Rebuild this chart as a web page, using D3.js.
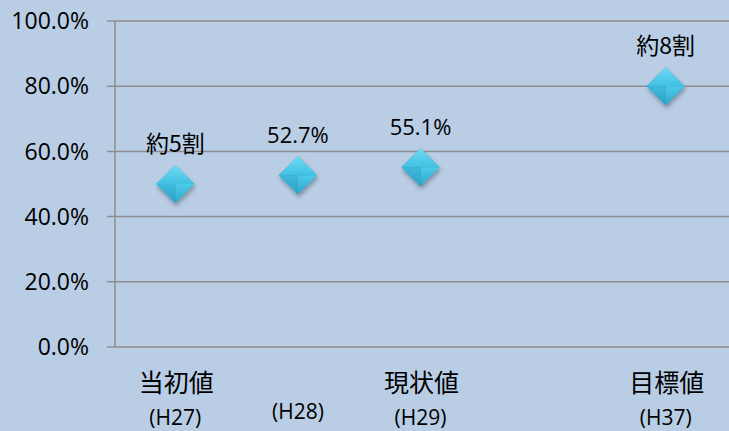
<meta charset="utf-8">
<style>
  body { margin: 0; background: #b9cde5; }
  text { font-family: "Noto Sans CJK JP", "Noto Sans", sans-serif; fill: #000; }
  .num { font-family: "Open Sans", "Noto Sans", sans-serif; }
</style>
<div id="chart"></div>
<script src="https://cdn.jsdelivr.net/npm/d3@7"></script>
<script>
var catKeys = ["H27", "H28", "H29", "H33", "H37"];
var catNames = ["当初値", "", "現状値", "", "目標値"];
var catYears = ["(H27)", "(H28)", "(H29)", "", "(H37)"];
var values = [50, 52.7, 55.1, null, 80];
var pointLabels = ["約5割", "52.7%", "55.1%", null, "約8割"];
var yTicks = [0, 20, 40, 60, 80, 100];

var width = 729, height = 431;

var svg = d3.select("#chart").append("svg")
    .attr("width", width)
    .attr("height", height);

svg.append("rect")
    .attr("width", width)
    .attr("height", height)
    .attr("fill", "#b9cde5");

var x = d3.scaleBand().domain(catKeys).range([114, 727]);
var y = d3.scaleLinear().domain([0, 100]).range([347, 21]);

// gradients for the beveled diamond
var defs = svg.append("defs");
var faces = [
    {id: "fTop", c1: "#6fdcf5", c2: "#40c0e2"},
    {id: "fLeft", c1: "#3fb9dc", c2: "#2fa2c6"},
    {id: "fRight", c1: "#4ccbe9", c2: "#2ea7cb"},
    {id: "fBottom", c1: "#2c9fc3", c2: "#2588ab"}
];
faces.forEach(function (f) {
    var g = defs.append("linearGradient").attr("id", f.id)
        .attr("x1", 0).attr("y1", 0).attr("x2", 0).attr("y2", 1);
    g.append("stop").attr("offset", "0%").attr("stop-color", f.c1);
    g.append("stop").attr("offset", "100%").attr("stop-color", f.c2);
});
var filt = defs.append("filter").attr("id", "shadow")
    .attr("x", "-50%").attr("y", "-50%").attr("width", "200%").attr("height", "200%");
filt.append("feDropShadow").attr("dx", 1).attr("dy", 3).attr("stdDeviation", 2)
    .attr("flood-color", "#000").attr("flood-opacity", 0.3);

// gridlines
svg.append("g").selectAll("line")
    .data(yTicks)
    .enter().append("line")
    .attr("x1", 107).attr("x2", width)
    .attr("y1", function (d) { return y(d); })
    .attr("y2", function (d) { return y(d); })
    .attr("stroke", "#8e8e8e")
    .attr("stroke-width", 1.5);

// y axis line
svg.append("line")
    .attr("x1", 115).attr("x2", 115)
    .attr("y1", y(100)).attr("y2", y(0))
    .attr("stroke", "#8e8e8e")
    .attr("stroke-width", 1.5);

// y tick labels
svg.append("g").selectAll("text")
    .data(yTicks)
    .enter().append("text")
    .attr("class", "num")
    .attr("x", 89)
    .attr("y", function (d) { return y(d); })
    .attr("dy", "0.36em")
    .attr("text-anchor", "end")
    .style("font-size", "23px")
    .text(function (d) { return d3.format(".1f")(d) + "%"; });

// category labels
var cx = function (i) { return x(catKeys[i]) + x.bandwidth() / 2; };
svg.append("g").selectAll("text")
    .data(catNames)
    .enter().append("text")
    .attr("x", function (d, i) { return cx(i) + 1; })
    .attr("y", 392)
    .attr("text-anchor", "middle")
    .style("font-size", "25px")
    .text(function (d) { return d; });

svg.append("g").selectAll("text")
    .data(catYears)
    .enter().append("text")
    .attr("class", "num")
    .attr("x", function (d, i) { return cx(i); })
    .attr("y", function (d, i) { return catNames[i] ? 425 : 419; })
    .attr("text-anchor", "middle")
    .style("font-size", "21px")
    .text(function (d) { return d; });

// markers
var r = 19;
var pts = values.map(function (v, i) { return {v: v, i: i, label: pointLabels[i]}; })
    .filter(function (d) { return d.v != null; });

var mk = svg.append("g").selectAll("g")
    .data(pts)
    .enter().append("g")
    .attr("transform", function (d) { return "translate(" + cx(d.i) + "," + y(d.v) + ")"; })
    .attr("filter", "url(#shadow)");

var facePaths = [
    {id: "fTop", p: [[-r, 0], [0, -r], [r, 0], [0, 0]]},
    {id: "fLeft", p: [[-r, 0], [0, 0], [0, r]]},
    {id: "fRight", p: [[r, 0], [0, 0], [0, r]]}
];
mk.append("path")
    .attr("d", "M" + (-r) + ",0L0," + (-r) + "L" + r + ",0L0," + r + "Z")
    .attr("fill", "url(#fBottom)");
facePaths.forEach(function (f) {
    mk.append("path")
        .attr("d", "M" + f.p.join("L") + "Z")
        .attr("fill", "url(#" + f.id + ")");
});

// point labels
svg.append("g").selectAll("text")
    .data(pts)
    .enter().append("text")
    .attr("class", function (d) { return /%$/.test(d.label) ? "num" : null; })
    .attr("x", function (d) { return cx(d.i); })
    .attr("y", function (d) { return y(d.v) - 32; })
    .attr("text-anchor", "middle")
    .style("font-size", function (d) { return /%$/.test(d.label) ? "22px" : "23px"; })
    .text(function (d) { return d.label; });
</script>
